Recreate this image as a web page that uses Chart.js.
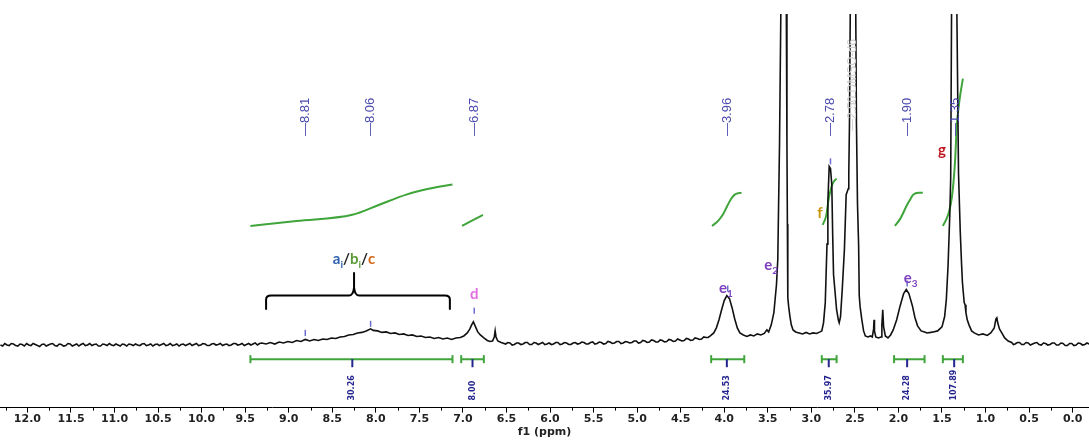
<!DOCTYPE html>
<html>
<head>
<meta charset="utf-8">
<script src="https://cdn.jsdelivr.net/npm/chart.js@4.4.1/dist/chart.umd.min.js"></script>
<style>
  html, body { margin: 0; padding: 0; background: #fff; }
  #wrap { width: 1089px; height: 444px; }
</style>
</head>
<body>
<div id="wrap"><canvas id="nmr"></canvas></div>
<script>
'use strict';

/* ── Data (ppm, intensity) ───────────────────────────────── */

const spectrum = [
  [12.31,0],[12.285,-1],[12.26,1.5],[12.235,0],[12.21,-0.5],[12.185,1.5],[12.16,1],[12.135,-0.5],[12.11,-1],[12.085,1],
  [12.06,0.5],[12.035,-1],[12.01,1.5],[11.985,0],[11.96,-0.5],[11.935,1.5],[11.91,0.5],[11.885,-0.5],[11.86,-1.5],[11.835,0.5],
  [11.81,1],[11.785,-1],[11.76,0],[11.735,1],[11.71,1.5],[11.685,-0.5],[11.66,-1],[11.635,1],[11.61,0.5],[11.585,-1],
  [11.56,-0.5],[11.535,1.5],[11.51,1],[11.485,-1],[11.46,0],[11.435,1],[11.41,-1],[11.385,0.5],[11.36,1.5],[11.335,-0.5],
  [11.31,0],[11.285,1.5],[11.26,-0.5],[11.235,0.5],[11.21,1],[11.185,-1],[11.16,-1],[11.135,1],[11.11,0.5],[11.085,-0.5],
  [11.06,1.5],[11.035,0],[11.01,-0.5],[10.985,1],[10.96,0],[10.935,-1],[10.91,1],[10.885,0.5],[10.86,-1],[10.835,1],
  [10.81,0.5],[10.785,-0.5],[10.76,1],[10.735,0],[10.71,-0.5],[10.685,1],[10.66,1.5],[10.635,-0.5],[10.61,0],[10.585,1],
  [10.56,-1],[10.535,0.5],[10.51,1],[10.485,-0.5],[10.46,0.5],[10.435,1.5],[10.41,-0.5],[10.385,0],[10.36,1.5],[10.335,-0.5],
  [10.31,0],[10.285,1],[10.26,-1],[10.235,0.5],[10.21,1],[10.185,-0.5],[10.16,0.5],[10.135,1.5],[10.11,-0.5],[10.085,0.5],
  [10.06,1.5],[10.035,-0.5],[10.01,0],[9.985,1.5],[9.96,1],[9.935,-0.5],[9.91,-0.5],[9.885,1],[9.86,1.5],[9.835,0],
  [9.81,0.5],[9.785,1.5],[9.76,-0.5],[9.735,0.5],[9.71,1],[9.685,-0.5],[9.66,0],[9.635,1.5],[9.61,1.5],[9.585,0],
  [9.56,0.5],[9.535,1.5],[9.51,-0.5],[9.485,0.5],[9.46,1.5],[9.435,0],[9.41,1],[9.385,2],[9.36,0],[9.335,1.5],
  [9.31,2],[9.26,1],[9.21,2.5],[9.16,1],[9.11,3],[9.06,2],[9.01,3.5],[8.96,2.5],[8.91,4.5],[8.86,3.5],
  [8.81,5.5],[8.76,4],[8.71,5.5],[8.66,4.5],[8.61,6],[8.56,5.5],[8.51,7],[8.46,6.5],[8.41,8],[8.36,8.5],
  [8.31,10],[8.26,10.5],[8.21,12],[8.16,12.5],[8.11,14],[8.06,16],[8.03,14.5],[7.98,14],[7.93,12.5],[7.88,13],
  [7.83,11.5],[7.78,12],[7.73,10.5],[7.68,11],[7.63,9.5],[7.58,10],[7.53,8.5],[7.48,9],[7.43,7.5],[7.38,8],
  [7.33,6.5],[7.28,7.5],[7.23,6],[7.18,7],[7.13,5.5],[7.08,7],[7.03,7.5],[6.99,9],[6.95,12],[6.92,16],
  [6.90,20],[6.88,23],[6.87,21],[6.85,17],[6.83,13],[6.80,10],[6.76,7],[6.72,4.5],[6.69,3.5],[6.66,4],
  [6.64,8],[6.63,14],[6.62,8],[6.60,4],[6.56,2.5],[6.51,1],
  [6.485,2.5],[6.46,2],[6.435,0],[6.41,0.5],[6.385,2],[6.36,2],[6.335,0.5],[6.31,1],[6.285,2.5],[6.26,2.5],
  [6.235,0.5],[6.21,0.5],[6.185,2.5],[6.16,2],[6.135,0.5],[6.11,1.5],[6.085,2.5],[6.06,0.5],[6.035,1],[6.01,2],
  [5.985,0.5],[5.96,1],[5.935,2.5],[5.91,2.5],[5.885,0.5],[5.86,1],[5.835,2.5],[5.81,2],[5.785,0.5],[5.76,0.5],
  [5.735,2],[5.71,2.5],[5.685,1],[5.66,1.5],[5.635,3],[5.61,2.5],[5.585,1],[5.56,1],[5.535,2.5],[5.51,3],
  [5.485,1],[5.46,1.5],[5.435,3],[5.41,2.5],[5.385,1],[5.36,1.5],[5.335,3.5],[5.31,3],[5.285,1.5],[5.26,2],
  [5.235,3.5],[5.21,3.5],[5.185,1.5],[5.16,2],[5.135,3.5],[5.11,3],[5.085,2],[5.06,2.5],[5.035,4],[5.01,4],
  [4.985,2],[4.96,2.5],[4.935,4.5],[4.91,4],[4.885,2.5],[4.86,3],[4.835,5],[4.81,4.5],[4.785,3],[4.76,3],
  [4.735,5],[4.71,4.5],[4.685,3],[4.66,3.5],[4.635,5.5],[4.61,5],[4.585,3.5],[4.56,4],[4.535,6],[4.51,5],
  [4.485,4],[4.46,4.5],[4.435,6.5],[4.41,6],[4.385,4.5],[4.36,5],[4.335,7],[4.31,6.5],[4.285,5.5],[4.26,6],
  [4.235,8],[4.21,7.5],[4.185,7.5],
  [4.16,9],[4.12,12],[4.09,17],[4.06,25],[4.03,35],[4.00,44],[3.97,49],[3.94,46],[3.91,37],[3.88,26],
  [3.85,17],[3.82,12],[3.78,10],[3.74,8.5],[3.70,10],[3.66,9],[3.62,11],[3.58,10],[3.54,11.5],[3.51,15],
  [3.49,13],[3.46,20],[3.43,32],[3.40,60],[3.385,85],[3.38,115],[3.365,200],[3.35,330],[3.34,500],[3.318,900],
  [3.295,500],[3.287,330],[3.28,200],[3.275,120],[3.272,79],[3.268,47],[3.26,38],[3.245,28],[3.23,20],[3.21,15],
  [3.18,13],[3.14,12],[3.10,11],[3.06,12.5],[3.02,11],[2.98,12],[2.94,11.5],[2.90,13],
  [2.88,14],[2.86,22],[2.84,42],[2.82,100],[2.81,142],[2.795,177],[2.78,175],[2.765,159],[2.755,110],[2.745,70],
  [2.73,55],[2.71,35],[2.69,25],[2.68,22],[2.665,28],[2.645,55],[2.62,95],[2.60,149],[2.575,155],[2.57,169],
  [2.562,220],[2.553,330],[2.545,500],[2.52,900],[2.495,500],[2.49,330],[2.482,220],[2.47,140],[2.457,99],[2.45,49],
  [2.44,38],[2.42,25],[2.40,14],[2.38,9],[2.35,8],[2.32,9],[2.30,8],[2.285,16],[2.28,25],[2.275,14],
  [2.26,8],[2.23,7],[2.20,8],[2.19,20],[2.18,35],[2.17,18],[2.15,9],[2.12,7],[2.09,10],[2.06,15],
  [2.02,25],[1.98,39],[1.94,51],[1.91,55],[1.88,51],[1.84,39],[1.81,27],[1.78,19],[1.74,14],[1.70,13],
  [1.67,12],[1.63,12.5],[1.60,13],[1.55,14],[1.50,18],[1.47,28],[1.45,45],[1.43,79],[1.41,130],[1.40,165],
  [1.39,330],[1.38,450],[1.357,900],[1.335,450],[1.329,330],[1.31,170],[1.29,112],[1.275,80],[1.265,62],[1.255,52],
  [1.245,42],[1.235,40],[1.225,32],[1.21,25],[1.19,20],[1.16,14],[1.13,12],[1.08,10],[1.03,11],[0.98,9.5],
  [0.94,12],[0.90,17],[0.88,26],[0.87,27],[0.86,22],[0.84,16],[0.82,13],[0.78,7],[0.74,4],[0.70,2.5],
  [0.68,0.5],[0.66,1],[0.635,2.5],[0.61,2.5],[0.585,0.5],[0.56,0.5],[0.535,2.5],[0.51,2],[0.485,0],[0.46,1],
  [0.435,2],[0.41,2.5],[0.385,0.5],[0.36,0],[0.335,2],[0.31,1.5],[0.285,0],[0.26,0.5],[0.235,2],[0.21,2],
  [0.185,0],[0.16,0],[0.135,2],[0.11,1.5],[0.085,-0.5],[0.06,-0.5],[0.035,1.5],[0.01,1.5],[-0.015,-0.5],[-0.04,0],
  [-0.065,2],[-0.09,1.5],[-0.115,0],[-0.14,0.5],[-0.165,2],[-0.19,1],
];

// integral traces (green S-curves)
const integralCurves = [
  [[9.44,118],[8.91,123],[8.27,129],[7.96,139],[7.65,149],[7.38,155],[7.12,159]],
  [[7.01,118],[6.88,124],[6.77,129]],
  [[4.14,118],[4.07,123],[4.01,130],[3.97,137],[3.92,145],[3.88,149],[3.80,151]],
  [[2.87,119],[2.83,128],[2.80,145],[2.76,159],[2.71,165]],
  [[2.04,118],[1.98,125],[1.90,139],[1.86,145],[1.83,149],[1.77,151],[1.72,151]],
  [[1.49,118],[1.43,129],[1.385,147],[1.35,182],[1.33,217],[1.30,242],[1.26,264]],
];

// integration ranges, centres and values
const integralRanges  = [[9.44, 7.12], [7.02, 6.76], [4.15, 3.77], [2.88, 2.71], [2.05, 1.70], [1.49, 1.26]];
const integralCenters = [8.27, 6.89, 3.97, 2.80, 1.90, 1.36];
const integralValues  = ['30.26', '8.00', '24.53', '35.97', '24.28', '107.89'];

// picked peaks
const peakShifts = [8.81, 8.06, 6.87, 3.96, 2.78, 1.90, 1.35];

/* ── Styles ──────────────────────────────────────────────── */

const GREEN = '#3fa53a';
const NAVY  = '#24248f';
const PEAK_BLUE = '#4a4ab0';
const BRACKET_LEVEL = -14;

/* ── Annotation plugin ───────────────────────────────────── */

const nmrMarks = {
  id: 'nmrMarks',
  afterDraw(chart) {
    const { ctx } = chart;
    const xs = chart.scales.x, ys = chart.scales.y;
    const px = v => xs.getPixelForValue(v);
    const py = v => ys.getPixelForValue(v);
    const axisY = chart.chartArea.bottom;

    ctx.save();

    // minor ticks at quarter ppm
    ctx.strokeStyle = '#000';
    ctx.lineWidth = 1;
    for (let v = 0.25; v < 12.3; v += 0.5) {
      const xx = Math.round(px(v)) + 0.5;
      ctx.beginPath();
      ctx.moveTo(xx, axisY);
      ctx.lineTo(xx, axisY + 3);
      ctx.stroke();
    }

    // vertical text helper
    const vText = (str, x, y, font, color) => {
      ctx.save();
      ctx.translate(x, y);
      ctx.rotate(-Math.PI / 2);
      ctx.font = font;
      ctx.fillStyle = color;
      ctx.textAlign = 'left';
      ctx.textBaseline = 'middle';
      ctx.fillText(str, 0, 0);
      ctx.restore();
    };

    // peak labels along the top
    peakShifts.forEach(p => {
      vText('\u2014' + p.toFixed(2), px(p), py(207), '13px "Liberation Sans", Arial, sans-serif', PEAK_BLUE);
    });
    vText('\u20142.50 DMSO-d6', px(2.52), py(212), '12px "Liberation Sans", Arial, sans-serif', '#cfcfcf');

    // small peak markers on the trace
    const markers = [[8.81, 9], [8.06, 18], [6.87, 31], [3.96, 53], [2.78, 179], [1.90, 58]];
    ctx.strokeStyle = '#6b6bd0';
    ctx.lineWidth = 1.5;
    markers.forEach(([p, h]) => {
      ctx.beginPath();
      ctx.moveTo(px(p), py(h));
      ctx.lineTo(px(p), py(h + 6));
      ctx.stroke();
    });

    // end caps of the integration brackets
    ctx.strokeStyle = GREEN;
    ctx.lineWidth = 2;
    integralRanges.forEach(([a, b]) => {
      [a, b].forEach(v => {
        ctx.beginPath();
        ctx.moveTo(px(v), py(BRACKET_LEVEL) - 4);
        ctx.lineTo(px(v), py(BRACKET_LEVEL) + 4);
        ctx.stroke();
      });
    });

    // integral centre ticks + values
    ctx.strokeStyle = NAVY;
    ctx.lineWidth = 2;
    integralCenters.forEach((c, i) => {
      ctx.beginPath();
      ctx.moveTo(px(c), py(BRACKET_LEVEL));
      ctx.lineTo(px(c), py(BRACKET_LEVEL - 8));
      ctx.stroke();
      vText(integralValues[i], px(c), py(-55), 'bold 8px "DejaVu Sans", sans-serif', NAVY);
    });

    // brace over the aromatic region
    ctx.strokeStyle = '#000';
    ctx.lineWidth = 2;
    const l = px(9.26), r = px(7.15), m = px(8.25);
    const yb = py(35), yh = py(49), yt = py(72);
    ctx.beginPath();
    ctx.moveTo(l, yb);
    ctx.lineTo(l, yh + 4);
    ctx.quadraticCurveTo(l, yh, l + 5, yh);
    ctx.lineTo(m - 5, yh);
    ctx.quadraticCurveTo(m - 1, yh, m, yh - 8);
    ctx.lineTo(m, yt);
    ctx.moveTo(m, yh - 8);
    ctx.quadraticCurveTo(m + 1, yh, m + 5, yh);
    ctx.lineTo(r - 5, yh);
    ctx.quadraticCurveTo(r, yh, r, yh + 4);
    ctx.lineTo(r, yb);
    ctx.stroke();

    // coloured assignment letters
    const drawLabel = (parts, x, y, align) => {
      const main = 'bold 15px Lato, "Open Sans", sans-serif';
      const sub = 'bold 10px Lato, "Open Sans", sans-serif';
      let w = 0;
      parts.forEach(pt => { ctx.font = pt.sub ? sub : main; w += ctx.measureText(pt.t).width; });
      let cx = align === 'center' ? x - w / 2 : x;
      ctx.textAlign = 'left';
      ctx.textBaseline = 'alphabetic';
      parts.forEach(pt => {
        ctx.font = pt.sub ? sub : main;
        ctx.fillStyle = pt.c;
        ctx.fillText(pt.t, cx, y + (pt.sub ? 4 : 0));
        cx += ctx.measureText(pt.t).width;
      });
    };
    drawLabel([
      { t: 'a', c: '#2f62b0' }, { t: 'i', c: '#2f62b0', sub: true },
      { t: '/', c: '#222' },
      { t: 'b', c: '#5a9a35' }, { t: 'i', c: '#5a9a35', sub: true },
      { t: '/', c: '#222' },
      { t: 'c', c: '#d4691e' },
    ], px(8.25), py(80), 'center');
    drawLabel([{ t: 'd', c: '#e46ee0' }], px(6.87), py(46), 'center');
    drawLabel([{ t: 'e', c: '#7b3fbf' }, { t: '1', c: '#7b3fbf', sub: true }], px(4.06), py(52), 'left');
    drawLabel([{ t: 'e', c: '#7b3fbf' }, { t: '2', c: '#7b3fbf', sub: true }], px(3.54), py(74), 'left');
    drawLabel([{ t: 'e', c: '#7b3fbf' }, { t: '3', c: '#7b3fbf', sub: true }], px(1.94), py(61), 'left');
    drawLabel([{ t: 'f', c: '#c8940c' }], px(2.90), py(126), 'center');
    drawLabel([{ t: 'g', c: '#c0161e' }], px(1.50), py(188), 'center');

    ctx.restore();
  },
};

/* ── Chart ───────────────────────────────────────────────── */

const toXY = arr => arr.map(([x, y]) => ({ x, y }));

const datasets = [
  {
    data: toXY(spectrum),
    borderColor: '#111',
    borderWidth: 1.6,
    pointRadius: 0,
    tension: 0,
  },
  ...integralCurves.map(c => ({
    data: toXY(c),
    borderColor: GREEN,
    borderWidth: 2,
    pointRadius: 0,
    cubicInterpolationMode: 'monotone',
  })),
  ...integralRanges.map(([a, b]) => ({
    data: [{ x: a, y: BRACKET_LEVEL }, { x: b, y: BRACKET_LEVEL }],
    borderColor: GREEN,
    borderWidth: 2,
    pointRadius: 0,
  })),
];

new Chart(document.getElementById('nmr'), {
  type: 'line',
  data: { datasets },
  options: {
    responsive: true,
    maintainAspectRatio: false,
    animation: false,
    layout: { padding: { top: 14, left: 0, right: 0, bottom: 3 } },
    plugins: {
      legend: { display: false },
      tooltip: { enabled: false },
    },
    scales: {
      x: {
        type: 'linear',
        reverse: true,
        min: -0.188,
        max: 12.315,
        afterFit(scale) {
          scale.paddingLeft = 0;
          scale.paddingRight = 0;
        },
        border: { display: true, color: '#000', width: 1 },
        grid: { drawOnChartArea: false, drawTicks: true, tickLength: 5, color: '#000' },
        ticks: {
          stepSize: 0.5,
          includeBounds: false,
          autoSkip: false,
          maxRotation: 0,
          padding: 0,
          color: '#222',
          font: { family: '"DejaVu Sans", Verdana, sans-serif', size: 11, weight: 'bold' },
          callback: v => v.toFixed(1),
        },
        title: {
          display: true,
          text: 'f1 (ppm)',
          color: '#222',
          padding: { top: 0, bottom: 2 },
          font: { family: '"DejaVu Sans", Verdana, sans-serif', size: 11, weight: 'bold' },
        },
      },
      y: {
        display: false,
        min: -62,
        max: 328,
      },
    },
  },
  plugins: [nmrMarks],
});
</script>
</body>
</html>
